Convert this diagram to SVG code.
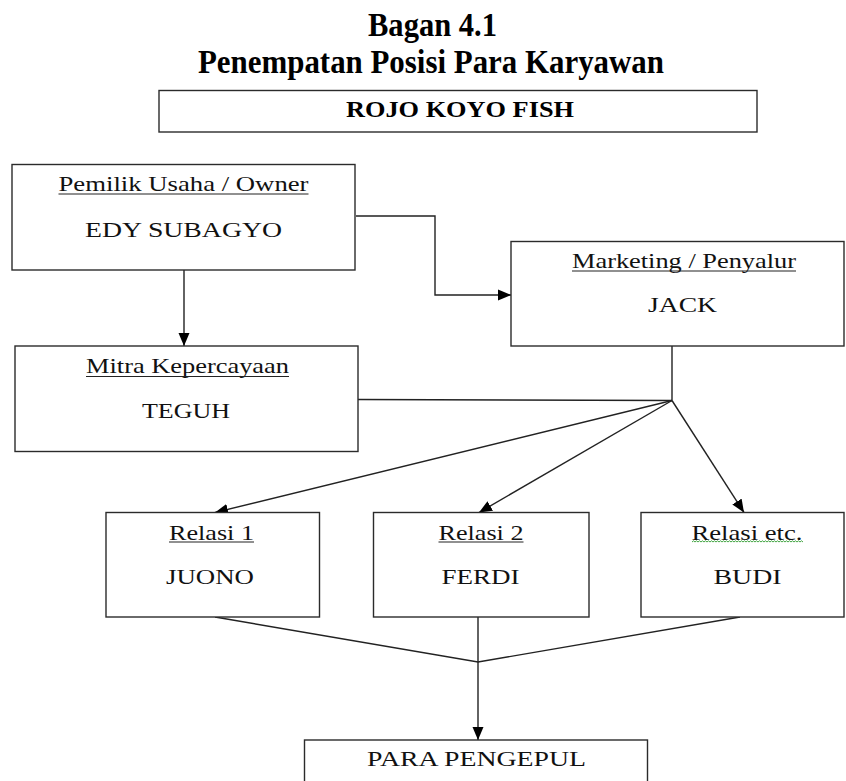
<svg xmlns="http://www.w3.org/2000/svg" width="846" height="781" viewBox="0 0 846 781">
<style>
.box{fill:#fff;stroke:#2b2b2b;stroke-width:1.4}
.t{font-family:"Liberation Serif","Times New Roman",serif;font-size:22px;fill:#111;text-anchor:middle}
.tb{font-family:"Liberation Serif","Times New Roman",serif;font-weight:bold;fill:#000;text-anchor:middle}
.ul{stroke:#222;stroke-width:1.2}
.c{fill:none;stroke:#222;stroke-width:1.4}
</style>
<defs>
<marker id="ah" markerUnits="userSpaceOnUse" markerWidth="14" markerHeight="12" refX="13" refY="6" orient="auto">
<path d="M0,0.5 L13,6 L0,11.5 z" fill="#000"/>
</marker>
</defs>
<rect width="846" height="781" fill="#fff"/>

<g id="title">
<text class="tb" x="432.5" y="36" font-size="34" textLength="129" lengthAdjust="spacingAndGlyphs">Bagan 4.1</text>
<text class="tb" x="431" y="72.5" font-size="34" textLength="466" lengthAdjust="spacingAndGlyphs">Penempatan Posisi Para Karyawan</text>
</g>

<g id="rojo">
<rect class="box" x="159" y="90.5" width="598" height="41.5"/>
<text class="tb" x="460" y="117" font-size="22.5" textLength="228" lengthAdjust="spacingAndGlyphs">ROJO KOYO FISH</text>
</g>

<g id="connectors">
<path class="c" d="M184,270 V346" marker-end="url(#ah)"/>
<path class="c" d="M356,216 H435 V295 H511" marker-end="url(#ah)"/>
<path class="c" d="M672,346 V400.5"/>
<path class="c" d="M358,399.5 L672,400.5"/>
<path class="c" d="M672,400.5 L215,512.5" marker-end="url(#ah)"/>
<path class="c" d="M672,400.5 L479,512.5" marker-end="url(#ah)"/>
<path class="c" d="M672,400.5 L744,512.5" marker-end="url(#ah)"/>
<path class="c" d="M215,617 L478,662 L740,617"/>
<path class="c" d="M478,617 V740" marker-end="url(#ah)"/>
</g>

<g id="pemilik">
<rect class="box" x="12" y="164.5" width="343" height="105.5"/>
<text class="t" x="183.5" y="190.5" textLength="250" lengthAdjust="spacingAndGlyphs">Pemilik Usaha / Owner</text>
<line class="ul" x1="58.5" y1="194" x2="308.5" y2="194"/>
<text class="t" x="183.5" y="236.5" textLength="197" lengthAdjust="spacingAndGlyphs">EDY SUBAGYO</text>
</g>

<g id="marketing">
<rect class="box" x="511" y="241.5" width="333" height="104.5"/>
<text class="t" x="684" y="267.5" textLength="224" lengthAdjust="spacingAndGlyphs">Marketing / Penyalur</text>
<line class="ul" x1="572" y1="271" x2="796" y2="271"/>
<text class="t" x="682.5" y="312" textLength="69" lengthAdjust="spacingAndGlyphs">JACK</text>
</g>

<g id="mitra">
<rect class="box" x="15" y="346" width="343" height="105.5"/>
<text class="t" x="187.5" y="373" textLength="203" lengthAdjust="spacingAndGlyphs">Mitra Kepercayaan</text>
<line class="ul" x1="86" y1="376.5" x2="289" y2="376.5"/>
<text class="t" x="186" y="418" textLength="88" lengthAdjust="spacingAndGlyphs">TEGUH</text>
</g>

<g id="relasi1">
<rect class="box" x="106" y="512.5" width="213.5" height="104.5"/>
<text class="t" x="211.5" y="539.5" textLength="85" lengthAdjust="spacingAndGlyphs">Relasi 1</text>
<line class="ul" x1="169" y1="542" x2="254" y2="542"/>
<text class="t" x="210" y="584" textLength="88" lengthAdjust="spacingAndGlyphs">JUONO</text>
</g>

<g id="relasi2">
<rect class="box" x="373.5" y="512.5" width="215.5" height="104.5"/>
<text class="t" x="481" y="539.5" textLength="85" lengthAdjust="spacingAndGlyphs">Relasi 2</text>
<line class="ul" x1="438.5" y1="542" x2="523.5" y2="542"/>
<text class="t" x="480.5" y="584" textLength="78" lengthAdjust="spacingAndGlyphs">FERDI</text>
</g>

<g id="relasi-etc">
<rect class="box" x="641" y="512.5" width="203" height="104.5"/>
<text class="t" x="747" y="539.5" textLength="111" lengthAdjust="spacingAndGlyphs">Relasi etc.</text>
<path d="M692,542 l1.5,-1.2 l1.5,1.2 l1.5,-1.2 l1.5,1.2 l1.5,-1.2 l1.5,1.2 l1.5,-1.2 l1.5,1.2 l1.5,-1.2 l1.5,1.2 l1.5,-1.2 l1.5,1.2 l1.5,-1.2 l1.5,1.2 l1.5,-1.2 l1.5,1.2 l1.5,-1.2 l1.5,1.2 l1.5,-1.2 l1.5,1.2 l1.5,-1.2 l1.5,1.2 l1.5,-1.2 l1.5,1.2 l1.5,-1.2 l1.5,1.2 l1.5,-1.2 l1.5,1.2 l1.5,-1.2 l1.5,1.2 l1.5,-1.2 l1.5,1.2 l1.5,-1.2 l1.5,1.2 l1.5,-1.2 l1.5,1.2 l1.5,-1.2 l1.5,1.2 l1.5,-1.2 l1.5,1.2 l1.5,-1.2 l1.5,1.2 l1.5,-1.2 l1.5,1.2 l1.5,-1.2 l1.5,1.2 l1.5,-1.2 l1.5,1.2 l1.5,-1.2 l1.5,1.2 l1.5,-1.2 l1.5,1.2 l1.5,-1.2 l1.5,1.2 l1.5,-1.2 l1.5,1.2 l1.5,-1.2 l1.5,1.2 l1.5,-1.2 l1.5,1.2 l1.5,-1.2 l1.5,1.2 l1.5,-1.2 l1.5,1.2 l1.5,-1.2 l1.5,1.2 l1.5,-1.2 l1.5,1.2 l1.5,-1.2 l1.5,1.2 l1.5,-1.2 l1.5,1.2 l1.5,-1.2 l1.5,1.2" fill="none" stroke="#2e9a2e" stroke-width="0.9"/>
<text class="t" x="747.5" y="584" textLength="68" lengthAdjust="spacingAndGlyphs">BUDI</text>
</g>

<g id="pengepul">
<rect class="box" x="304.5" y="740" width="343" height="60"/>
<text class="t" x="476.5" y="765.5" textLength="219" lengthAdjust="spacingAndGlyphs">PARA PENGEPUL</text>
</g>
</svg>
